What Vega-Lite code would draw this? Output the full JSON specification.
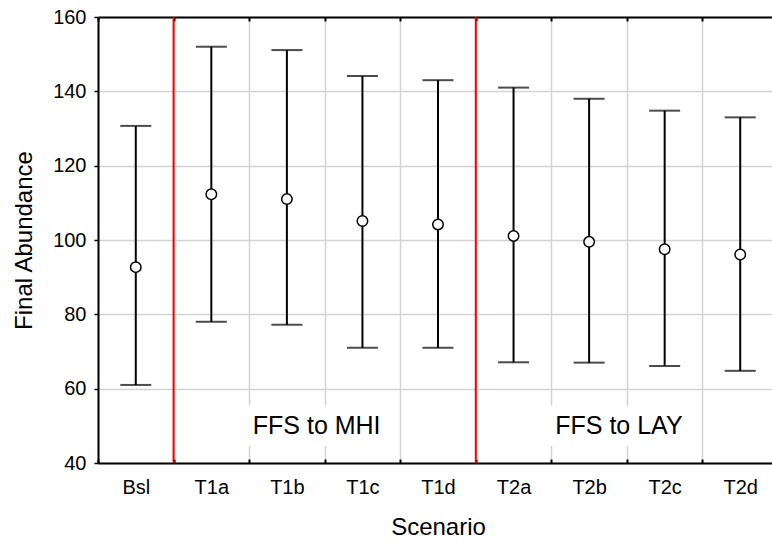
{
  "$schema": "https://vega.github.io/schema/vega-lite/v6.json",
  "width": 680,
  "height": 446,
  "autosize": {"type": "none"},
  "padding": {"left": 98, "top": 17, "right": -6, "bottom": 81},
  "background": "white",
  "config": {
    "view": {"stroke": null},
    "axis": {"labelFont": "Liberation Sans", "titleFont": "Liberation Sans", "labelColor": "black", "titleColor": "black", "titleFontWeight": "normal", "labelFontWeight": "normal", "labelFontSize": 20, "titleFontSize": 24}
  },
  "datasets": {
    "stats": [
      {"scenario": "Bsl", "low": 61, "mean": 92.7, "high": 130.7},
      {"scenario": "T1a", "low": 78, "mean": 112.3, "high": 152},
      {"scenario": "T1b", "low": 77.2, "mean": 111, "high": 151.1},
      {"scenario": "T1c", "low": 71, "mean": 105.1, "high": 144.1},
      {"scenario": "T1d", "low": 71, "mean": 104.2, "high": 143},
      {"scenario": "T2a", "low": 67.1, "mean": 101.1, "high": 141},
      {"scenario": "T2b", "low": 67, "mean": 99.5, "high": 138},
      {"scenario": "T2c", "low": 66.1, "mean": 97.5, "high": 134.8},
      {"scenario": "T2d", "low": 64.8, "mean": 96.1, "high": 133}
    ],
    "separators": [
      {"scenario": "T1a"},
      {"scenario": "T2a"}
    ],
    "labels": [
      {"scenario": "T1c", "value": 50, "label": "FFS to MHI"},
      {"scenario": "T2c", "value": 50, "label": "FFS to LAY"}
    ]
  },
  "resolve": {"axis": {"x": "independent", "y": "independent"}},
  "layer": [
    {
      "data": {"name": "stats"},
      "mark": {"type": "rule", "color": "black", "strokeWidth": 2},
      "encoding": {
        "x": {
          "field": "scenario", "type": "nominal", "sort": null,
          "scale": {"paddingInner": 0, "paddingOuter": 0},
          "axis": {
            "orient": "bottom",
            "title": "Scenario", "titleFontSize": 24, "titlePadding": 18,
            "labelFontSize": 20, "labelAngle": 0, "labelPadding": 18,
            "tickBand": "extent", "ticks": true, "tickSize": -4, "tickColor": "black", "tickWidth": 2,
            "domainColor": "black", "domainWidth": 2,
            "grid": true, "gridColor": "#d3d3d3", "gridWidth": 1.5
          }
        },
        "y": {
          "field": "low", "type": "quantitative",
          "scale": {"domain": [40, 160], "nice": false, "zero": false},
          "axis": {
            "orient": "left",
            "title": "Final Abundance", "titleFontSize": 24, "titlePadding": 16,
            "values": [40, 60, 80, 100, 120, 140, 160],
            "labelFontSize": 20, "labelPadding": 8,
            "tickSize": 4, "tickColor": "black", "tickWidth": 1.5,
            "domainColor": "black", "domainWidth": 2,
            "grid": true, "gridColor": "#d3d3d3", "gridWidth": 1.5
          }
        },
        "y2": {"field": "high"}
      }
    },
    {
      "data": {"name": "stats"},
      "mark": {"type": "tick", "color": "black", "thickness": 2, "size": 31, "orient": "horizontal"},
      "encoding": {
        "x": {"field": "scenario", "type": "nominal", "sort": null, "axis": {"orient": "top", "title": null, "labels": false, "tickBand": "extent", "ticks": true, "tickSize": -4, "tickColor": "black", "tickWidth": 2, "domainColor": "black", "domainWidth": 2, "grid": false}},
        "y": {"field": "low", "type": "quantitative", "axis": null}
      }
    },
    {
      "data": {"name": "stats"},
      "mark": {"type": "tick", "color": "black", "thickness": 2, "size": 31, "orient": "horizontal"},
      "encoding": {
        "x": {"field": "scenario", "type": "nominal", "sort": null, "axis": null},
        "y": {"field": "high", "type": "quantitative", "axis": null}
      }
    },
    {
      "data": {"name": "stats"},
      "mark": {"type": "point", "shape": "circle", "filled": true, "fill": "white", "stroke": "black", "strokeWidth": 1.5, "size": 110, "opacity": 1},
      "encoding": {
        "x": {"field": "scenario", "type": "nominal", "sort": null, "axis": null},
        "y": {"field": "mean", "type": "quantitative", "axis": null}
      }
    },
    {
      "data": {"name": "separators"},
      "mark": {"type": "rule", "color": "#ff0000", "strokeWidth": 2},
      "encoding": {
        "x": {"field": "scenario", "type": "nominal", "sort": null, "bandPosition": 0, "axis": null}
      }
    },
    {
      "data": {"name": "labels"},
      "mark": {"type": "point", "shape": "M-1.1,-0.28H0.9V0.28H-1.1Z", "filled": true, "fill": "white", "strokeWidth": 0, "size": 21000, "opacity": 1},
      "encoding": {
        "x": {"field": "scenario", "type": "nominal", "sort": null, "bandPosition": 0, "axis": null},
        "y": {"field": "value", "type": "quantitative", "axis": null}
      }
    },
    {
      "data": {"name": "labels"},
      "mark": {"type": "text", "font": "Liberation Sans", "fontSize": 25, "color": "black", "dx": -8, "baseline": "middle", "align": "center"},
      "encoding": {
        "x": {"field": "scenario", "type": "nominal", "sort": null, "bandPosition": 0, "axis": null},
        "y": {"field": "value", "type": "quantitative", "axis": null},
        "text": {"field": "label"}
      }
    }
  ]
}
